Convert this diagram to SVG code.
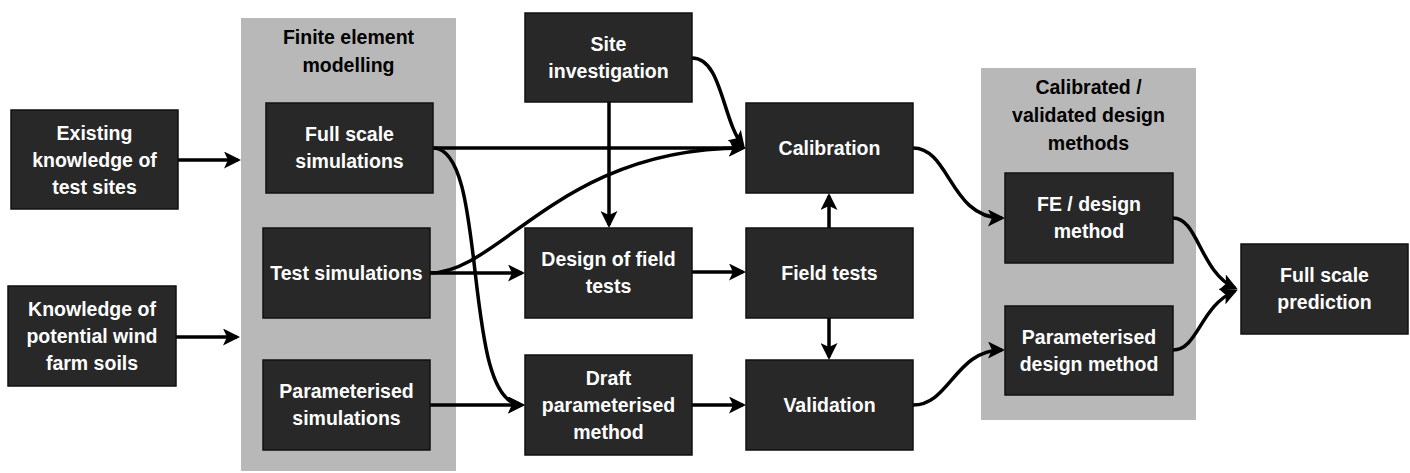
<svg xmlns="http://www.w3.org/2000/svg" width="1410" height="473" viewBox="0 0 1410 473">
<defs>
<style>
.panel{fill:#b8b8b8;}
.box{fill:#282828;stroke:#111;stroke-width:1.5;}
.t{font-family:"Liberation Sans",Arial,sans-serif;font-weight:bold;font-size:19.5px;text-anchor:middle;fill:#ffffff;}
.h{font-family:"Liberation Sans",Arial,sans-serif;font-weight:bold;font-size:19.5px;text-anchor:middle;fill:#000000;}
.c{fill:none;stroke:#000;stroke-width:3.5;marker-end:url(#arr);}
</style>
<marker id="arr" markerUnits="userSpaceOnUse" markerWidth="17" markerHeight="17" viewBox="0 0 17 17" refX="14" refY="8.5" orient="auto">
<path d="M0,0 L17,8.5 L0,17 L4,8.5 z" fill="#000"/>
</marker>
</defs>
<rect width="1410" height="473" fill="#ffffff"/>
<g id="panel-fe">
<rect class="panel" x="241" y="18" width="215" height="453"/>
<text class="h" x="348.5" y="44">Finite element</text>
<text class="h" x="348.5" y="71.5">modelling</text>
</g>
<g id="panel-calibrated">
<rect class="panel" x="981" y="68" width="215" height="352"/>
<text class="h" x="1088.5" y="94">Calibrated /</text>
<text class="h" x="1088.5" y="122">validated design</text>
<text class="h" x="1088.5" y="150">methods</text>
</g>
<g id="connectors">
<path class="c" d="M178,160 H238"/>
<path class="c" d="M176,337 H237"/>
<path class="c" d="M433,148 H743"/>
<path class="c" d="M433,148 C490,148 460,405 522,405"/>
<path class="c" d="M430,273 C500,273 560,148 743,148"/>
<path class="c" d="M430,273 H522"/>
<path class="c" d="M430,405 H522"/>
<path class="c" d="M609,102 V225"/>
<path class="c" d="M692,58 C722,58 722,120 743,146"/>
<path class="c" d="M692,272 H743"/>
<path class="c" d="M829,228 V196"/>
<path class="c" d="M829,318 V357"/>
<path class="c" d="M692,405 H743"/>
<path class="c" d="M913,148 C950,148 950,218 1002,218"/>
<path class="c" d="M913,405 C950,405 955,350 1002,350"/>
<path class="c" d="M1173,218 C1198,218 1200,272 1235,288"/>
<path class="c" d="M1173,350 C1198,350 1200,306 1235,291"/>
</g>
<g id="existing-knowledge">
<rect class="box" x="11" y="110" width="167" height="99"/>
<text class="t" x="94.5" y="140">Existing</text>
<text class="t" x="94.5" y="167">knowledge of</text>
<text class="t" x="94.5" y="194">test sites</text>
</g>
<g id="knowledge-soils">
<rect class="box" x="8" y="286" width="168" height="100"/>
<text class="t" x="92" y="316">Knowledge of</text>
<text class="t" x="92" y="343">potential wind</text>
<text class="t" x="92" y="370">farm soils</text>
</g>
<g id="full-scale-sim">
<rect class="box" x="266" y="103" width="167" height="90"/>
<text class="t" x="349.5" y="141">Full scale</text>
<text class="t" x="349.5" y="168">simulations</text>
</g>
<g id="test-sim">
<rect class="box" x="263" y="228" width="167" height="90"/>
<text class="t" x="346.5" y="280">Test simulations</text>
</g>
<g id="param-sim">
<rect class="box" x="263" y="360" width="167" height="90"/>
<text class="t" x="346.5" y="398">Parameterised</text>
<text class="t" x="346.5" y="425">simulations</text>
</g>
<g id="site-investigation">
<rect class="box" x="525" y="13" width="167" height="89"/>
<text class="t" x="608.5" y="51">Site</text>
<text class="t" x="608.5" y="78">investigation</text>
</g>
<g id="design-field-tests">
<rect class="box" x="525" y="228" width="167" height="90"/>
<text class="t" x="608.5" y="266">Design of field</text>
<text class="t" x="608.5" y="293">tests</text>
</g>
<g id="draft-method">
<rect class="box" x="525" y="355" width="167" height="100"/>
<text class="t" x="608.5" y="385">Draft</text>
<text class="t" x="608.5" y="412">parameterised</text>
<text class="t" x="608.5" y="439">method</text>
</g>
<g id="calibration">
<rect class="box" x="746" y="103" width="167" height="90"/>
<text class="t" x="829.5" y="155">Calibration</text>
</g>
<g id="field-tests">
<rect class="box" x="746" y="228" width="167" height="90"/>
<text class="t" x="829.5" y="280">Field tests</text>
</g>
<g id="validation">
<rect class="box" x="746" y="360" width="167" height="90"/>
<text class="t" x="829.5" y="412">Validation</text>
</g>
<g id="fe-design">
<rect class="box" x="1005" y="173" width="168" height="90"/>
<text class="t" x="1089" y="211">FE / design</text>
<text class="t" x="1089" y="238">method</text>
</g>
<g id="param-design">
<rect class="box" x="1005" y="306" width="168" height="89"/>
<text class="t" x="1089" y="344">Parameterised</text>
<text class="t" x="1089" y="371">design method</text>
</g>
<g id="full-scale-prediction">
<rect class="box" x="1241" y="244" width="167" height="90"/>
<text class="t" x="1324.5" y="282">Full scale</text>
<text class="t" x="1324.5" y="309">prediction</text>
</g>
</svg>
